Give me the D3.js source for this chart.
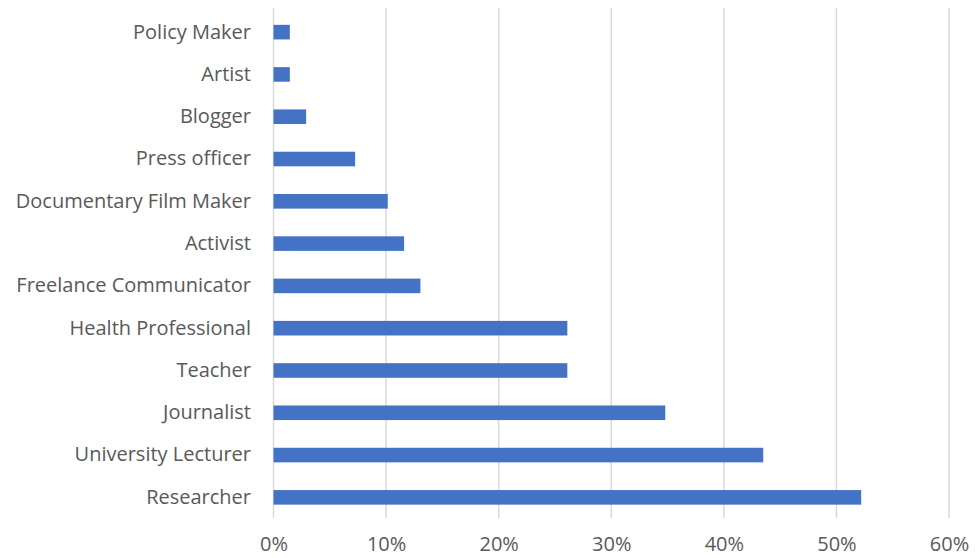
<!DOCTYPE html>
<html><head><meta charset="utf-8">
<script src="https://cdn.jsdelivr.net/npm/d3@7"></script>
<style>body{margin:0;background:#fff}svg{display:block}</style>
</head><body>
<svg id="c" width="979" height="558"></svg>
<script>
const categories = ["Policy Maker","Artist","Blogger","Press officer","Documentary Film Maker","Activist","Freelance Communicator","Health Professional","Teacher","Journalist","University Lecturer","Researcher"];
const values = [1.45,1.45,2.9,7.25,10.15,11.6,13.05,26.1,26.1,34.8,43.5,52.2];
const tickValues = [0,10,20,30,40,50,60];

const svg = d3.select("#c");
const x = d3.scaleLinear().domain([0,60]).range([273.5,949]);
const y = d3.scaleBand().domain(categories).range([11,518.5]).paddingInner(0.655).paddingOuter(0.3275);
const font = "'Open Sans', 'Liberation Sans', sans-serif";

svg.append("g").selectAll("line").data(tickValues).join("line")
  .attr("x1",d=>x(d)).attr("x2",d=>x(d)).attr("y1",8).attr("y2",518)
  .attr("stroke","#d9d9d9").attr("stroke-width",1.5);

svg.append("g").selectAll("rect").data(values).join("rect")
  .attr("x",x(0)).attr("y",(d,i)=>y(categories[i]))
  .attr("width",d=>x(d)-x(0)).attr("height",y.bandwidth())
  .attr("fill","#4472c4");

const xAxis = svg.append("g").attr("transform","translate(0,520)")
  .call(d3.axisBottom(x).tickValues(tickValues).tickFormat(d=>d+"%").tickSize(0).tickPadding(17));
xAxis.select(".domain").remove();
xAxis.selectAll("text").attr("font-family",font).attr("font-size",20).attr("fill","#595959");

const yAxis = svg.append("g").attr("transform","translate(251,0)")
  .call(d3.axisLeft(y).tickSize(0).tickPadding(0));
yAxis.select(".domain").remove();
yAxis.selectAll("text").attr("font-family",font).attr("font-size",20).attr("fill","#595959");
</script>
</body></html>
